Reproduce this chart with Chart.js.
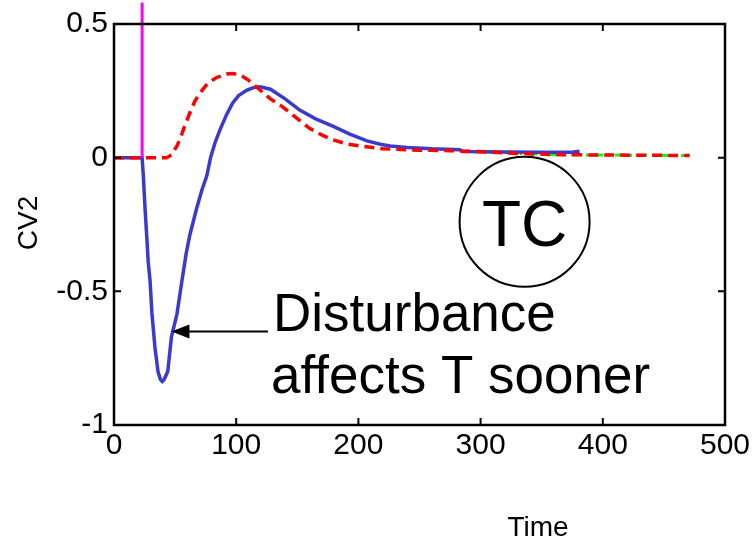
<!DOCTYPE html>
<html>
<head>
<meta charset="utf-8">
<script src="https://cdn.jsdelivr.net/npm/chart.js@4"></script>
<style>
  body { margin: 0; background: #fff; }
  #wrap { width: 755px; height: 542px; }
</style>
</head>
<body>
<div id="wrap"><canvas id="myChart"></canvas></div>
<script>
// blue: CV2 response (solid)
const blueTime = [0, 23, 24, 25.4, 27, 28, 29.5, 31, 33.5, 36, 38, 39.5, 41, 44, 47, 51.5, 55.6, 59, 62, 67.6, 72, 76, 79, 82.6, 86.7, 92, 97, 102, 108.5, 114, 119.5, 128, 140, 152, 165, 179, 193, 207, 218, 226, 240, 260, 283, 285, 320, 350, 375, 381]
const blueVals = [0, 0, -0.067, -0.19, -0.31, -0.39, -0.46, -0.58, -0.71, -0.80, -0.83, -0.837, -0.83, -0.80, -0.67, -0.585, -0.46, -0.36, -0.29, -0.19, -0.12, -0.067, 0, 0.055, 0.104, 0.16, 0.204, 0.232, 0.252, 0.262, 0.265, 0.256, 0.22, 0.178, 0.145, 0.118, 0.088, 0.063, 0.05, 0.044, 0.038, 0.033, 0.03, 0.023, 0.021, 0.02, 0.02, 0.024]

// red: dashed response
const redTime = [0, 43, 47, 51.5, 54, 58, 62, 66, 70, 77, 84, 92, 97, 103, 110, 119, 128, 138, 149, 160, 170, 179, 190, 201, 220, 250, 275, 302, 330, 365, 471]
const redVals = [0, 0, 0.01, 0.044, 0.07, 0.12, 0.167, 0.21, 0.24, 0.28, 0.30, 0.313, 0.315, 0.31, 0.29, 0.255, 0.22, 0.19, 0.15, 0.11, 0.085, 0.067, 0.052, 0.044, 0.033, 0.028, 0.026, 0.022, 0.016, 0.011, 0.008]

// green: dash-dot, mostly hidden under the red
const greenTime = [302, 330, 365, 471]
const greenVals = [0.022, 0.016, 0.011, 0.008]

// magenta marker where the disturbance enters
const markerTime = [23, 23]
const markerVals = [0, 0.58]

const xTicks = [0, 100, 200, 300, 400, 500]
const yTicks = [-1, -0.5, 0, 0.5]

const pts = (xs, ys) => xs.map((x, i) => ({ x: x, y: ys[i] }))

const FONT = "'Liberation Sans', Arial, Helvetica, sans-serif"

// MATLAB-ish box, inward ticks, text and arrow
const extras = {
  id: 'extras',
  afterDraw(chart) {
    const { ctx, chartArea: a, scales: { x, y } } = chart
    ctx.save()
    ctx.strokeStyle = '#000'
    ctx.lineWidth = 2.5
    ctx.strokeRect(a.left, a.top, a.right - a.left, a.bottom - a.top)

    ctx.lineWidth = 2
    ctx.beginPath()
    xTicks.slice(1, -1).forEach(v => {
      const px = x.getPixelForValue(v)
      ctx.moveTo(px, a.bottom); ctx.lineTo(px, a.bottom - 7)
      ctx.moveTo(px, a.top); ctx.lineTo(px, a.top + 7)
    })
    yTicks.slice(1, -1).forEach(v => {
      const py = y.getPixelForValue(v)
      ctx.moveTo(a.left, py); ctx.lineTo(a.left + 7, py)
      ctx.moveTo(a.right, py); ctx.lineTo(a.right - 7, py)
    })
    ctx.stroke()

    // arrow
    const tipX = x.getPixelForValue(47), tipY = y.getPixelForValue(-0.65)
    const tailX = x.getPixelForValue(126)
    ctx.lineWidth = 2
    ctx.beginPath()
    ctx.moveTo(tailX, tipY); ctx.lineTo(tipX + 16, tipY)
    ctx.stroke()
    ctx.fillStyle = '#000'
    ctx.beginPath()
    ctx.moveTo(tipX, tipY)
    ctx.lineTo(tipX + 18, tipY - 7)
    ctx.lineTo(tipX + 18, tipY + 7)
    ctx.closePath()
    ctx.fill()

    // annotation text
    ctx.font = '53px ' + FONT
    ctx.textAlign = 'left'
    ctx.textBaseline = 'alphabetic'
    ctx.fillText('Disturbance', 273, 331)
    ctx.fillText('affects T sooner', 271, 393)

    // TC circle
    const cx = x.getPixelForValue(336), cy = y.getPixelForValue(-0.24)
    ctx.lineWidth = 2
    ctx.beginPath()
    ctx.arc(cx, cy, 65, 0, Math.PI * 2)
    ctx.stroke()
    ctx.font = '64px ' + FONT
    ctx.textAlign = 'center'
    ctx.fillText('TC', cx, cy + 24)

    // axis titles
    ctx.font = '28px ' + FONT
    ctx.fillText('Time', 538, 536)
    ctx.translate(37, 223)
    ctx.rotate(-Math.PI / 2)
    ctx.fillText('CV2', 0, 0)
    ctx.restore()
  }
}

new Chart(document.getElementById('myChart'), {
  type: 'line',
  data: {
    datasets: [
      {
        data: pts(markerTime, markerVals),
        borderColor: '#ff00ff',
        borderWidth: 3,
        pointRadius: 0,
        clip: false
      },
      {
        data: pts(redTime, redVals),
        borderColor: '#ff0000',
        borderWidth: 3.5,
        borderDash: [10, 6],
        pointRadius: 0
      },
      {
        data: pts(blueTime, blueVals),
        borderColor: '#3a3ad2',
        borderWidth: 3.5,
        pointRadius: 0
      },
      {
        data: pts(greenTime, greenVals),
        borderColor: '#00ff00',
        borderWidth: 3,
        borderDash: [10, 5, 2, 5],
        pointRadius: 0
      }
    ]
  },
  options: {
    responsive: true,
    maintainAspectRatio: false,
    animation: false,
    parsing: false,
    layout: { padding: { top: 20, right: 30, left: 0, bottom: 0 } },
    plugins: {
      legend: { display: false },
      tooltip: { enabled: false }
    },
    scales: {
      x: {
        type: 'linear',
        min: 0,
        max: 500,
        afterFit: s => { s.height = 117 },
        afterBuildTicks: s => { s.ticks = xTicks.map(v => ({ value: v })) },
        grid: { display: false, drawTicks: false },
        border: { display: false },
        ticks: { color: '#000', padding: 3, maxRotation: 0, font: { family: FONT, size: 30 } }
      },
      y: {
        type: 'linear',
        min: -1,
        max: 0.5,
        afterFit: s => { s.width = 114 },
        afterBuildTicks: s => { s.ticks = yTicks.map(v => ({ value: v })) },
        grid: { display: false, drawTicks: false },
        border: { display: false },
        ticks: { color: '#000', padding: 6, font: { family: FONT, size: 30 }, callback: v => String(v) }
      }
    }
  },
  plugins: [extras]
})
</script>
</body>
</html>
